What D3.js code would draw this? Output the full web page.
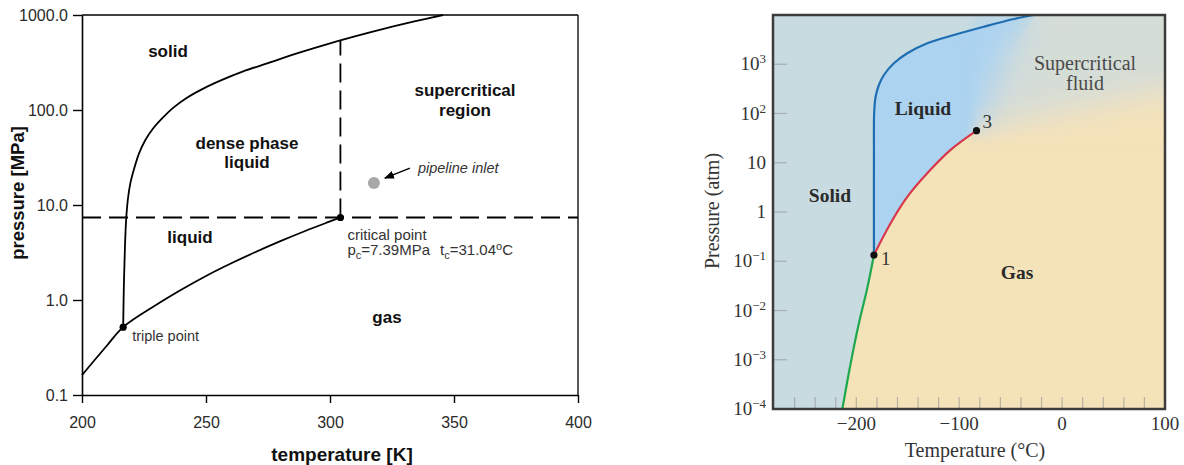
<!DOCTYPE html>
<html><head><meta charset="utf-8">
<script src="https://cdn.jsdelivr.net/npm/d3@7"></script>
<style>body{margin:0;background:#fff;} svg{display:block}</style>
</head><body>
<svg id="c" width="1184" height="465"></svg>
<script>
// ---------- LEFT CHART DATA (CO2, T in K, P in MPa) ----------
const leftXTicks = [200, 250, 300, 350, 400];
const leftYTicks = [0.1, 1, 10, 100, 1000];
const leftYTickLabels = ["0.1", "1.0", "10.0", "100.0", "1000.0"];
const co2Triple = [216.6, 0.518];
const co2Critical = [304.2, 7.39];
const co2Vapor = [[200, 0.162], [210, 0.33], [216.6, 0.518], [230, 0.89], [240, 1.28], [250, 1.79], [260, 2.42], [270, 3.2], [280, 4.16], [290, 5.32], [300, 6.71], [304.2, 7.39]];
const co2Melt = [[216.6, 0.518], [216.9, 1.5], [217.3, 3.5], [217.8, 7], [218.5, 11.5], [219.5, 17], [221, 24], [223, 35], [225.5, 48], [228.5, 63], [232, 80], [236.5, 104], [242, 133], [248.5, 166], [256, 205], [265, 255], [275, 311], [286, 390], [298, 486], [310, 595], [322, 718], [334, 855], [345.6, 1000]];
const pipelineInlet = [317.7, 17];

// ---------- RIGHT CHART DATA (T in °C, P in atm) ----------
const rightXTicks = [-200, -100, 0, 100];
const rightXMinorTicks = [-260, -240, -220, -200, -180, -160, -140, -120, -100, -80, -60, -40, -20, 0, 20, 40, 60, 80];
const rightYTicks = [1e-4, 1e-3, 1e-2, 1e-1, 1, 10, 1e2, 1e3];
const rightYTickBase = ["10", "10", "10", "10", "1", "10", "10", "10"];
const rightYTickExp = ["\u22124", "\u22123", "\u22122", "\u22121", "", "", "2", "3"];
const ch4Triple = [-182.9, 0.134];
const ch4Critical = [-83.2, 44.8];
const ch4Melt = [[-182.9, 0.134], [-182.9, 18], [-182.8, 90], [-182.2, 150], [-181.3, 219], [-178.1, 379], [-173.2, 605], [-163.5, 1045], [-150.5, 1668], [-131.1, 2663], [-105.2, 3925], [-76.1, 5785], [-47.0, 8300], [-27.9, 10000]];
const ch4Vapor = [[-182.9, 0.134], [-166.7, 0.59], [-150.5, 2.02], [-131.1, 6.1], [-108.4, 18.2], [-83.2, 44.8]];
const ch4Sublimation = [[-213.6, 1.0e-4], [-205.5, 0.00085], [-197.5, 0.0055], [-189.3, 0.029], [-182.9, 0.134]];
// fuzzy supercritical boundaries (liquid->fluid, gas->fluid)
const scLiquidEdge = [[-83.2, 44.8], [-50, 2000], [-25, 10000]];
const scGasEdge = [[-83.2, 44.8], [100, 300]];

const svg = d3.select("#c");
const defs = svg.append("defs");

// =================== LEFT CHART ===================
const SANS = "'Liberation Sans', Arial, Helvetica, sans-serif";
const xL = d3.scaleLinear().domain([200, 400]).range([82, 578]);
const yL = d3.scaleLog().domain([0.1, 1000]).range([395, 15]);
const lineL = d3.line().x(d => xL(d[0])).y(d => yL(d[1])).curve(d3.curveCatmullRom.alpha(0.5));

const L = svg.append("g");

// frame top/right
L.append("line").attr("x1", xL(200)).attr("x2", xL(400)).attr("y1", yL(1000)).attr("y2", yL(1000)).attr("stroke", "#000").attr("stroke-width", 1.3);
L.append("line").attr("x1", xL(400)).attr("x2", xL(400)).attr("y1", yL(1000)).attr("y2", yL(0.1)).attr("stroke", "#000").attr("stroke-width", 1.3);

const gx = L.append("g").attr("transform", `translate(0,${yL(0.1)})`)
  .call(d3.axisBottom(xL).tickValues(leftXTicks).tickSize(8).tickSizeOuter(0).tickPadding(14).tickFormat(d3.format("d")));
const gy = L.append("g").attr("transform", `translate(${xL(200)},0)`)
  .call(d3.axisLeft(yL).tickValues(leftYTicks).tickSize(9).tickSizeOuter(0).tickPadding(5).tickFormat((d, i) => leftYTickLabels[i]));
[gx, gy].forEach(g => {
  g.select(".domain").attr("stroke", "#000").attr("stroke-width", 1.6);
  g.selectAll(".tick line").attr("stroke", "#000").attr("stroke-width", 1.4);
  g.selectAll(".tick text").attr("font-family", SANS).attr("font-size", 16).attr("fill", "#2a2a2a");
});

// dashed critical lines
function interpLogP(arr, T) {
  for (let i = 0; i < arr.length - 1; i++) {
    const a = arr[i], b = arr[i + 1];
    if (T >= a[0] && T <= b[0]) {
      const t = (T - a[0]) / (b[0] - a[0]);
      return Math.pow(10, Math.log10(a[1]) + t * (Math.log10(b[1]) - Math.log10(a[1])));
    }
  }
  return arr[arr.length - 1][1];
}
L.append("line").attr("x1", xL(200)).attr("x2", xL(400)).attr("y1", yL(co2Critical[1])).attr("y2", yL(co2Critical[1]))
  .attr("stroke", "#000").attr("stroke-width", 1.8).attr("stroke-dasharray", "19,8");
L.append("line").attr("x1", xL(co2Critical[0])).attr("x2", xL(co2Critical[0]))
  .attr("y1", yL(co2Critical[1])).attr("y2", yL(interpLogP(co2Melt, co2Critical[0])))
  .attr("stroke", "#000").attr("stroke-width", 1.8).attr("stroke-dasharray", "19,8");

// curves
L.append("path").attr("d", lineL(co2Vapor)).attr("fill", "none").attr("stroke", "#000").attr("stroke-width", 1.8);
L.append("path").attr("d", lineL(co2Melt)).attr("fill", "none").attr("stroke", "#000").attr("stroke-width", 1.8);
[co2Triple, co2Critical].forEach(p => L.append("circle").attr("cx", xL(p[0])).attr("cy", yL(p[1])).attr("r", 3.6).attr("fill", "#000"));

// pipeline inlet
const pix = xL(pipelineInlet[0]), piy = yL(pipelineInlet[1]);
L.append("circle").attr("cx", pix).attr("cy", piy).attr("r", 6).attr("fill", "#a8a8a8");
defs.append("marker").attr("id", "arr").attr("viewBox", "0 0 10 8").attr("refX", 9).attr("refY", 4)
  .attr("markerWidth", 10).attr("markerHeight", 8).attr("markerUnits", "userSpaceOnUse").attr("orient", "auto")
  .append("path").attr("d", "M0,0 L10,4 L0,8 Z").attr("fill", "#000");
L.append("line").attr("x1", pix + 36).attr("y1", piy - 15).attr("x2", pix + 11).attr("y2", piy - 5)
  .attr("stroke", "#000").attr("stroke-width", 1.5).attr("marker-end", "url(#arr)");
L.append("text").attr("x", pix + 44).attr("y", piy - 15).attr("dy", "0.35em").attr("font-family", SANS)
  .attr("font-size", 14.5).attr("font-style", "italic").attr("fill", "#333").text("pipeline inlet");

// region labels
const boldL = [["solid", 168, 51], ["dense phase", 247, 143], ["liquid", 247, 162], ["supercritical", 465, 90], ["region", 465, 110], ["liquid", 190, 237], ["gas", 387, 317]];
boldL.forEach(([t, x, y]) => L.append("text").attr("x", x).attr("y", y).attr("dy", "0.35em").attr("text-anchor", "middle")
  .attr("font-family", SANS).attr("font-size", 17).attr("font-weight", "bold").attr("fill", "#111").text(t));

// critical / triple annotations
const cpx = xL(co2Critical[0]), cpy = yL(co2Critical[1]);
L.append("text").attr("x", cpx + 7).attr("y", cpy + 17).attr("dy", "0.35em").attr("font-family", SANS).attr("font-size", 15).attr("fill", "#333").text("critical point");
const pc = L.append("text").attr("x", cpx + 7).attr("y", cpy + 38).attr("font-family", SANS).attr("font-size", 15).attr("fill", "#333");
pc.append("tspan").text("p");
pc.append("tspan").attr("dy", 4).attr("font-size", 11).text("c");
pc.append("tspan").attr("dy", -4).text("=7.39MPa");
pc.append("tspan").attr("dx", 10).text("t");
pc.append("tspan").attr("dy", 4).attr("font-size", 11).text("c");
pc.append("tspan").attr("dy", -4).text("=31.04");
pc.append("tspan").attr("dy", -5).attr("font-size", 11).text("o");
pc.append("tspan").attr("dy", 5).text("C");
L.append("text").attr("x", xL(co2Triple[0]) + 9).attr("y", yL(co2Triple[1]) + 9).attr("dy", "0.35em").attr("font-family", SANS).attr("font-size", 14.5).attr("fill", "#333").text("triple point");

// axis titles
L.append("text").attr("transform", "translate(18,193) rotate(-90)").attr("text-anchor", "middle").attr("dy", "0.35em")
  .attr("font-family", SANS).attr("font-size", 18.5).attr("font-weight", "bold").attr("fill", "#111").text("pressure [MPa]");
L.append("text").attr("x", 342).attr("y", 454).attr("dy", "0.35em").attr("text-anchor", "middle")
  .attr("font-family", SANS).attr("font-size", 19).attr("font-weight", "bold").attr("fill", "#111").text("temperature [K]");

// =================== RIGHT CHART ===================
const SERIF = "'Liberation Serif', 'Times New Roman', serif";
const xR = d3.scaleLinear().domain([-281, 100]).range([773, 1165]);
const yR = d3.scaleLog().domain([1e-4, 1e4]).range([409, 15]);
const lineR = d3.line().x(d => xR(d[0])).y(d => yR(d[1])).curve(d3.curveCatmullRom.alpha(0.5));
const [rx0, rx1] = xR.range();
const [ry0, ry1] = yR.range();

defs.append("clipPath").attr("id", "rclip").append("rect").attr("x", rx0).attr("y", ry1).attr("width", rx1 - rx0).attr("height", ry0 - ry1);
defs.append("filter").attr("id", "scblur").attr("filterUnits", "userSpaceOnUse").attr("x", 650).attr("y", -100).attr("width", 650).attr("height", 650)
  .append("feGaussianBlur").attr("stdDeviation", 16);
defs.append("filter").attr("id", "mblur").attr("filterUnits", "userSpaceOnUse").attr("x", 650).attr("y", -100).attr("width", 650).attr("height", 650)
  .append("feGaussianBlur").attr("stdDeviation", 6);
const ccx = xR(ch4Critical[0]), ccy = yR(ch4Critical[1]);
const mask = defs.append("mask").attr("id", "scmask").attr("maskUnits", "userSpaceOnUse").attr("x", 650).attr("y", -100).attr("width", 650).attr("height", 650);
mask.append("polygon").attr("points", [[ccx - 4, -60], [rx1 + 60, -60], [rx1 + 60, ccy + 10], [ccx - 4, ccy + 10]].map(p => p.join(",")).join(" "))
  .attr("fill", "#fff").attr("filter", "url(#mblur)");

const COL_SOLID = "#c8dbe0", COL_LIQ = "#acd3f0", COL_GAS = "#f4e2b9", COL_SC = "#d5ddd7";
const ptR = d => [xR(d[0]), yR(d[1])];
const toL = s => "L" + s.slice(1);

// polygons
const liqPath = lineR(ch4Melt) + scLiquidEdge.slice().reverse().map(d => "L" + ptR(d).join(",")).join("") +
  toL(lineR(ch4Vapor.slice().reverse())) + "Z";
const gasPath = "M" + xR(ch4Sublimation[0][0]) + "," + (ry0 + 20) + toL(lineR(ch4Sublimation)) + toL(lineR(ch4Vapor)) +
  scGasEdge.map(d => "L" + ptR(d).join(",")).join("") +
  "L" + (rx1 + 60) + "," + yR(scGasEdge[1][1]) + "L" + (rx1 + 60) + "," + (ry0 + 20) + "Z";
const scTop = ptR(scLiquidEdge[scLiquidEdge.length - 1]);
const scPath = scLiquidEdge.map((d, i) => (i ? "L" : "M") + ptR(d).join(",")).join("") +
  "L" + scTop[0] + "," + (ry1 - 60) + "L" + (rx1 + 60) + "," + (ry1 - 60) + "L" + (rx1 + 60) + "," + yR(scGasEdge[1][1]) +
  "L" + ptR(scGasEdge[1]).join(",") + "Z";

const R = svg.append("g");
const fills = R.append("g").attr("clip-path", "url(#rclip)");
fills.append("rect").attr("x", rx0).attr("y", ry1).attr("width", rx1 - rx0).attr("height", ry0 - ry1).attr("fill", COL_SOLID);
function drawPolys(g) {
  g.append("path").attr("d", liqPath).attr("fill", COL_LIQ);
  g.append("path").attr("d", gasPath).attr("fill", COL_GAS);
  g.append("path").attr("d", scPath).attr("fill", COL_SC);
}
drawPolys(fills.append("g"));
drawPolys(fills.append("g").attr("mask", "url(#scmask)").append("g").attr("filter", "url(#scblur)"));

// ticks (inside)
R.selectAll(".xt").data(rightXMinorTicks).enter().append("line")
  .attr("x1", d => xR(d)).attr("x2", d => xR(d)).attr("y1", ry0).attr("y2", ry0 - 12)
  .attr("stroke", "#8a8a8a").attr("stroke-opacity", 0.55).attr("stroke-width", 1.2);
R.selectAll(".yt").data(rightYTicks.filter(d => d > 1e-4)).enter().append("line")
  .attr("x1", rx0).attr("x2", rx0 + 14).attr("y1", d => yR(d)).attr("y2", d => yR(d))
  .attr("stroke", "#8a8a8a").attr("stroke-opacity", 0.55).attr("stroke-width", 1.2);

// curves
R.append("path").attr("d", lineR(ch4Melt)).attr("fill", "none").attr("stroke", "#1f6eb2").attr("stroke-width", 2.2);
R.append("path").attr("d", lineR(ch4Vapor)).attr("fill", "none").attr("stroke", "#d8384b").attr("stroke-width", 2.2);
R.append("path").attr("d", lineR(ch4Sublimation)).attr("fill", "none").attr("stroke", "#1ea84f").attr("stroke-width", 2.2);
[ch4Triple, ch4Critical].forEach(p => R.append("circle").attr("cx", xR(p[0])).attr("cy", yR(p[1])).attr("r", 3.6).attr("fill", "#111"));
R.append("text").attr("x", xR(ch4Triple[0]) + 7).attr("y", yR(ch4Triple[1]) + 3).attr("dy", "0.35em").attr("font-family", SERIF).attr("font-size", 19).attr("fill", "#333").text("1");
R.append("text").attr("x", ccx + 6).attr("y", ccy - 9).attr("dy", "0.35em").attr("font-family", SERIF).attr("font-size", 19).attr("fill", "#333").text("3");

// frame
R.append("rect").attr("x", rx0).attr("y", ry1).attr("width", rx1 - rx0).attr("height", ry0 - ry1)
  .attr("fill", "none").attr("stroke", "#3c3c3c").attr("stroke-width", 2.5);

// tick labels
R.selectAll(".xl").data(rightXTicks).enter().append("text")
  .attr("x", d => xR(d)).attr("y", 430).attr("text-anchor", "middle").attr("font-family", SERIF).attr("font-size", 19).attr("fill", "#333")
  .text(d => d < 0 ? "\u2212" + Math.abs(d) : String(d));
rightYTicks.forEach((d, i) => {
  const t = R.append("text").attr("x", 766).attr("y", yR(d) + 6).attr("text-anchor", "end").attr("font-family", SERIF).attr("font-size", 19).attr("fill", "#333");
  t.append("tspan").text(rightYTickBase[i]);
  if (rightYTickExp[i]) {
    t.append("tspan").attr("dy", -7).attr("font-size", 13).text(rightYTickExp[i]);
  }
});

// region labels
[["Liquid", 923, 108], ["Solid", 830, 195], ["Gas", 1017, 272]].forEach(([t, x, y]) =>
  R.append("text").attr("x", x).attr("y", y).attr("dy", "0.35em").attr("text-anchor", "middle").attr("font-family", SERIF)
    .attr("font-size", 19.5).attr("font-weight", "bold").attr("fill", "#2a2a2a").text(t));
[["Supercritical", 1085, 63], ["fluid", 1085, 83]].forEach(([t, x, y]) =>
  R.append("text").attr("x", x).attr("y", y).attr("dy", "0.35em").attr("text-anchor", "middle").attr("font-family", SERIF)
    .attr("font-size", 20).attr("fill", "#4a4a4a").text(t));

// axis titles
R.append("text").attr("x", 975).attr("y", 450).attr("dy", "0.35em").attr("text-anchor", "middle").attr("font-family", SERIF)
  .attr("font-size", 20).attr("fill", "#333").text("Temperature (\u00B0C)");
R.append("text").attr("transform", "translate(712,211) rotate(-90)").attr("dy", "0.35em").attr("text-anchor", "middle").attr("font-family", SERIF)
  .attr("font-size", 20).attr("fill", "#333").text("Pressure (atm)");
</script>
</body></html>
